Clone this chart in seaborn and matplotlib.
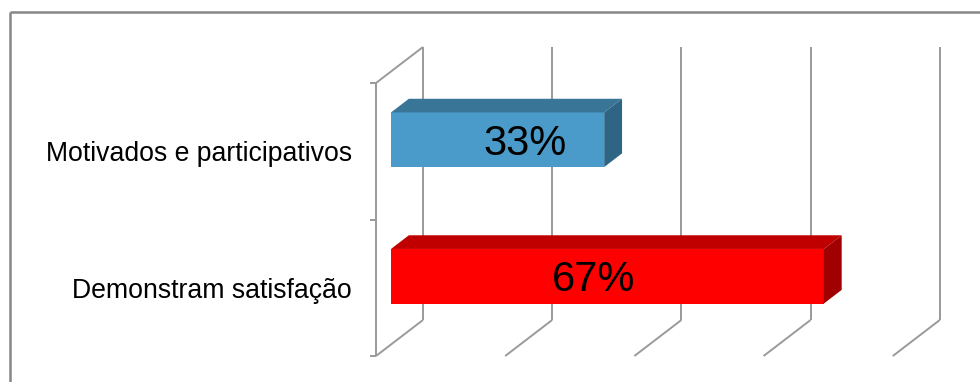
import matplotlib
matplotlib.use("Agg")
import matplotlib.pyplot as plt
import matplotlib.lines as mlines
import matplotlib.patches as mpatches
import numpy as np
import pandas as pd
import seaborn as sns

# ---- data ----
categories = ["Motivados e participativos", "Demonstram satisfação"]
shares = [0.33, 0.67]
value_labels = ["33%", "67%"]
grid_ticks = [0.0, 0.2, 0.4, 0.6, 0.8]

# ---- styling ----
front_colors = ["#4A9BC9", "#FF0000"]
top_colors = ["#387596", "#C00000"]
side_colors = ["#2E6585", "#A00000"]
grid_color = "#9A9A9A"
label_frac = [0.63, 0.467]        # where each value label sits along its bar

sns.set_theme(style="white")
plt.rcParams["font.family"] = ["Liberation Sans", "DejaVu Sans"]

W, H, DPI = 980, 382, 100
fig = plt.figure(figsize=(W / DPI, H / DPI), dpi=DPI)
fig.patch.set_facecolor("white")

# axes = plane of the bars' front faces (pixel layout converted to fractions)
left_px, right_px, top_px, bot_px = 391, 907.8, 71.5, 344.5
ax = fig.add_axes([left_px / W, 1 - bot_px / H,
                   (right_px - left_px) / W, (bot_px - top_px) / H])

df = pd.DataFrame({"cat": categories, "share": shares})
sns.barplot(data=df, x="share", y="cat", hue="cat", palette=front_colors,
            orient="h", width=0.4, saturation=1, legend=False,
            linewidth=0, ax=ax, zorder=3)

ax.set_xlim(0, max(grid_ticks))
ax.set_ylim(len(categories) - 0.5, -0.5)
for s in ax.spines.values():
    s.set_visible(False)
ax.set_xticks([])
ax.set_yticks([])
ax.set_xlabel("")
ax.set_ylabel("")
ax.patch.set_alpha(0)

# depth direction of the pseudo-3D box (pixels per unit depth)
DEPTH = np.array([47.0, 36.0])
FRONT_WALL, BACK_WALL, BAR_DEPTH = -0.32, 0.68, 0.38
inv_fig = fig.transFigure.inverted()


def to_fig(x, y, depth):
    p = ax.transData.transform((x, y)) + depth * DEPTH
    return inv_fig.transform(p)


def line(p0, p1, **kw):
    fig.add_artist(mlines.Line2D([p0[0], p1[0]], [p0[1], p1[1]],
                                 transform=fig.transFigure, **kw))


gkw = dict(color=grid_color, lw=1.4, solid_capstyle="butt", zorder=0)
y_top, y_bot = -0.5, len(categories) - 0.5

# back wall gridlines and floor edges
for g in grid_ticks:
    line(to_fig(g, y_top, BACK_WALL), to_fig(g, y_bot, BACK_WALL), **gkw)
    line(to_fig(g, y_bot, BACK_WALL), to_fig(g, y_bot, FRONT_WALL), **gkw)
# side wall top edge and front axis
line(to_fig(0, y_top, BACK_WALL), to_fig(0, y_top, FRONT_WALL), **gkw)
line(to_fig(0, y_top, FRONT_WALL), to_fig(0, y_bot, FRONT_WALL), **gkw)
# category tick marks on the front axis
tick_len = 6 / W
for yt in np.arange(-0.5, len(categories), 1.0):
    p = to_fig(0, yt, FRONT_WALL)
    line(p, (p[0] - tick_len, p[1]), **gkw)

# 3D top and side faces of every bar
half = 0.2
for i, v in enumerate(shares):
    y0, y1 = i - half, i + half
    top = [to_fig(0, y0, 0), to_fig(v, y0, 0),
           to_fig(v, y0, BAR_DEPTH), to_fig(0, y0, BAR_DEPTH)]
    side = [to_fig(v, y0, 0), to_fig(v, y0, BAR_DEPTH),
            to_fig(v, y1, BAR_DEPTH), to_fig(v, y1, 0)]
    fig.add_artist(mpatches.Polygon(top, closed=True, transform=fig.transFigure,
                                    facecolor=top_colors[i], edgecolor="none", zorder=2))
    fig.add_artist(mpatches.Polygon(side, closed=True, transform=fig.transFigure,
                                    facecolor=side_colors[i], edgecolor="none", zorder=2))

# category labels on the front plane
for i, c in enumerate(categories):
    p = to_fig(0, i, FRONT_WALL)
    fig.text(p[0] - 24 / W, p[1] - 3 / H, c, ha="right", va="center",
             fontsize=19.2, color="black")

# value labels on the bars
for i, (v, lab) in enumerate(zip(shares, value_labels)):
    ax.annotate(lab, (v * label_frac[i], i), xytext=(0, -3), textcoords="offset points",
                ha="center", va="center", fontsize=30, color="black", zorder=5)

# chart-area border (left and top edges)
bkw = dict(color="#878787", lw=1.8, solid_capstyle="butt", zorder=10)
line((10 / W, 0), (10 / W, 1 - 11.5 / H), **bkw)
line((10 / W, 1 - 11.5 / H), (1, 1 - 11.5 / H), **bkw)

fig.savefig("out.png", dpi=DPI, facecolor="white")
